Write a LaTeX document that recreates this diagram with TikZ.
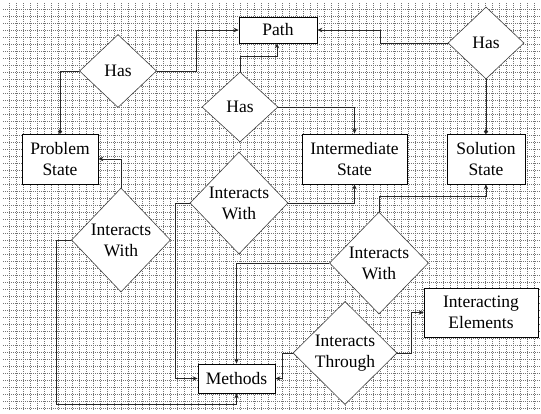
\documentclass[tikz,border=0pt]{standalone}
\usepackage{fontspec}
\setmainfont{Liberation Serif}
\usetikzlibrary{shapes.geometric,arrows.meta}
\tikzset{
  box/.style={draw=black, line width=0.8pt, fill=white, rectangle, inner sep=0pt, align=center, font=\lbl},
  dia/.style={draw=black!75, line width=0.6pt, fill=white, diamond, inner sep=0pt},
  dtext/.style={inner sep=0pt, align=center, font=\lbl},
  conn/.style={draw=black!85, line width=0.8pt},
  arr/.style={conn, -{Stealth[length=5pt,width=4.5pt]}},
  dotend/.style={conn, -{Circle[length=4pt]}},
  gridline/.style={draw=black!55, line width=0.5pt, dash pattern=on 1pt off 1pt}
}
\newcommand{\lbl}{\fontsize{17.5}{21}\selectfont}
\begin{document}
\begin{tikzpicture}[x=1pt,y=-1pt]
\useasboundingbox (0,0) rectangle (541,413);
\fill[white] (0,0) rectangle (541,413);
% grid
\foreach \x in {9,16,...,541} \draw[gridline] (\x,3) -- (\x,410);
\foreach \y in {9,16,...,408} \draw[gridline] (3,\y) -- (541,\y);

% boxes
\node[box, minimum width=78, minimum height=26] (path) at (278,30) {Path};
\node[box, minimum width=76, minimum height=50] (prob) at (60,159) {Problem\\State};
\node[box, minimum width=105, minimum height=50] (inter) at (354.5,159) {Intermediate\\State};
\node[box, minimum width=78, minimum height=50] (sol) at (486,159) {Solution\\State};
\node[box, minimum width=77, minimum height=29] (meth) at (236.5,378.5) {Methods};
\node[box, minimum width=114, minimum height=49] (ie) at (481,312.5) {Interacting\\Elements};

% diamonds
\node[dia, minimum width=77, minimum height=73] (hasL) at (118,71) {};
\node[dtext] (hasLt) at (hasL.center) {Has};
\node[dia, minimum width=76, minimum height=70] (hasM) at (240,107) {};
\node[dtext] (hasMt) at (hasM.center) {Has};
\node[dia, minimum width=76, minimum height=72] (hasR) at (486,43) {};
\node[dtext] (hasRt) at (hasR.center) {Has};
\node[dia, minimum width=98, minimum height=102] (iwt) at (239,203) {};
\node[dtext] (iwtt) at (iwt.center) {Interacts\\With};
\node[dia, minimum width=99, minimum height=104] (iwl) at (121,240) {};
\node[dtext] (iwlt) at (iwl.center) {Interacts\\With};
\node[dia, minimum width=99, minimum height=102] (iwr) at (379,263) {};
\node[dtext] (iwrt) at (iwr.center) {Interacts\\With};
\node[dia, minimum width=104, minimum height=103] (it) at (345,353) {};
\node[dtext] (itt) at (it.center) {Interacts\\Through};

% connectors
\draw[arr] (hasL.east) -- ++(40,0) |- (path.west);
\draw[dotend] (hasL.west) -| (prob.north);
\draw[arr] (hasM.north) -- ++(0,-15) -| ([xshift=-1pt]path.south);
\draw[arr] (hasM.east) -| (inter.north);
\draw[arr] (hasR.west) -- ++(-67,0) |- (path.east);
\draw[dotend] (hasR.south) -- (sol.north);
\draw[arr] (iwt.east) -| (inter.south);
\draw[arr] (iwt.west) -- ++(-14,0) |- (meth.west);
\draw[arr] (iwr.west) -| (meth.north);
\draw[arr] (iwr.north) -- ++(0,-15) -| (sol.south);
\draw[arr] (iwl.north) |- (prob.east);
\draw[arr] (iwl.west) -- ++(-15,0) -- ++(0,164) -| (meth.south);
\draw[arr] (it.west) -- ++(-10,0) |- (meth.east);
\draw[arr] (it.east) -- ++(14,0) |- (ie.west);
\end{tikzpicture}
\end{document}
